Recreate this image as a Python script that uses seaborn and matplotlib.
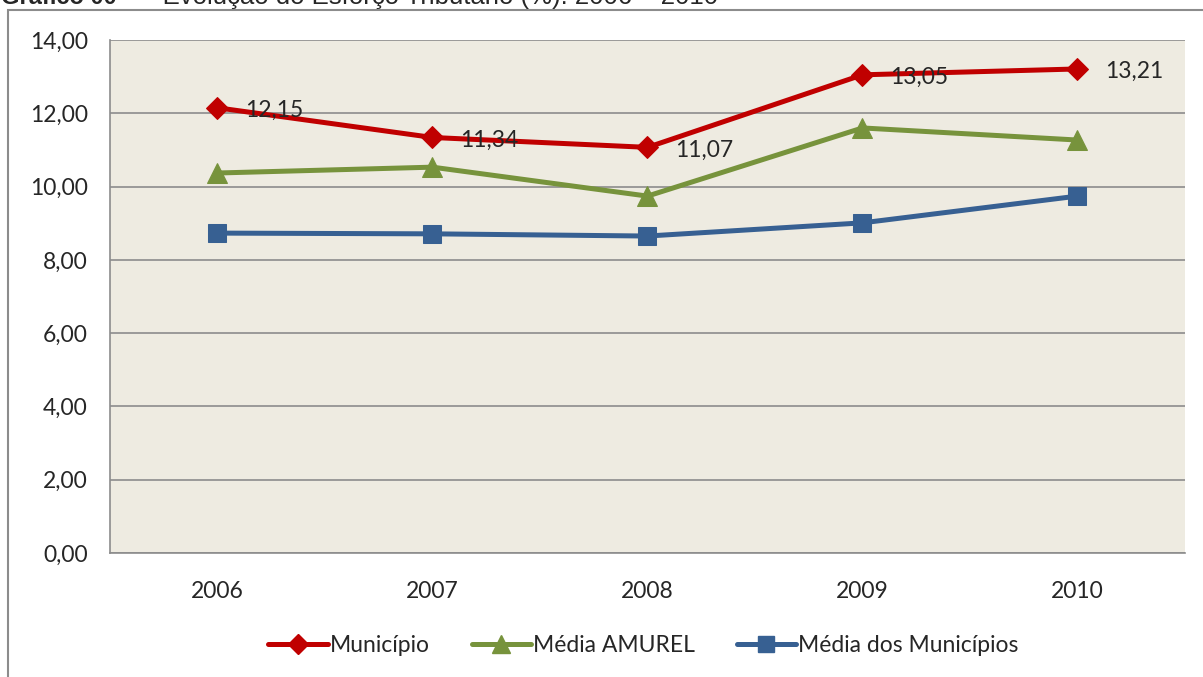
import pandas as pd
import seaborn as sns
import matplotlib.pyplot as plt
from matplotlib.patches import Rectangle
from matplotlib.lines import Line2D

# dados
anos = ["2006", "2007", "2008", "2009", "2010"]
municipio = [12.15, 11.34, 11.07, 13.05, 13.21]
media_amurel = [10.37, 10.53, 9.74, 11.60, 11.27]
media_municipios = [8.73, 8.71, 8.65, 9.01, 9.74]
series = ["Município", "Média AMUREL", "Média dos Municípios"]
cores = ["#C00000", "#77933C", "#376092"]
marcadores = ["D", "^", "s"]

df = pd.DataFrame({
    "ano": anos * 3,
    "valor": municipio + media_amurel + media_municipios,
    "serie": [s for s in series for _ in anos],
})
df["x"] = df["ano"].map({a: i for i, a in enumerate(anos)})

sns.set_style("white")
plt.rcParams["font.family"] = ["Lato", "DejaVu Sans"]
fs = 16.5

fig = plt.figure(figsize=(12.03, 6.77), dpi=100)
ax = fig.add_axes([0.0914, 0.1832, 0.8936, 0.7577])

# moldura do gráfico
fig.patches.append(Rectangle((8 / 1203, -0.1), 1.2, 1 - 10 / 677 + 0.1,
                             transform=fig.transFigure, fill=False,
                             edgecolor="#8c8c8c", linewidth=1.5))

ax.set_facecolor("#EEEBE1")
sizes = {"D": 11, "^": 14, "s": 12.5}
for s, c, m in zip(series, cores, marcadores):
    sub = df[df["serie"] == s]
    sns.lineplot(data=sub, x="x", y="valor", ax=ax, color=c, marker=m,
                 markersize=sizes[m], markeredgecolor=c, linewidth=3.6,
                 legend=False, zorder=3)

for i, v in enumerate(municipio):
    ax.annotate(f"{v:.2f}".replace(".", ","), (i, v), xytext=(20, -2),
                textcoords="offset points", ha="left", va="center",
                fontsize=fs, zorder=4)

ax.set_xlim(-0.5, 4.5)
ax.set_ylim(0, 14)
ax.set_yticks(range(0, 15, 2))
ax.set_yticklabels([f"{v},00" for v in range(0, 15, 2)], fontsize=fs)
ax.yaxis.grid(True, color="#8c8c8c", linewidth=1.2)
ax.set_axisbelow(True)

ax.set_xticks([i - 0.5 for i in range(6)])
ax.set_xticklabels([])
ax.tick_params(axis="x", which="major", direction="out", length=6,
               color="#8c8c8c", width=1)
ax.set_xticks(range(5), minor=True)
ax.set_xticklabels(anos, minor=True, fontsize=fs)
ax.tick_params(axis="x", which="minor", length=0, pad=20)
ax.tick_params(axis="y", direction="out", length=7, color="#8c8c8c", pad=9)

for lado in ["top", "right"]:
    ax.spines[lado].set_visible(False)
for lado in ["left", "bottom"]:
    ax.spines[lado].set_color("#8c8c8c")
    ax.spines[lado].set_linewidth(1.2)
ax.set_xlabel("")
ax.set_ylabel("")

handles = [Line2D([], [], color=c, marker=m, markersize=sizes[m] - 1,
                  linewidth=3.6, markeredgecolor=c)
           for c, m in zip(cores, marcadores)]
fig.legend(handles, series, loc="center", bbox_to_anchor=(0.535, 0.046),
           ncol=3, frameon=False, fontsize=fs, handlelength=2.6,
           handletextpad=0.1, columnspacing=1.8)

# título (cortado na imagem original)
fig.text(0.001, 1.004, "Gráfico 00", fontsize=17, fontweight="bold",
         va="center", ha="left", family=["Liberation Sans", "DejaVu Sans"])
fig.text(0.111, 1.004, "–  Evolução do Esforço Tributário (%): 2006 – 2010",
         fontsize=18.5, va="center", ha="left",
         family=["Liberation Sans", "DejaVu Sans"])

fig.savefig("out.png", dpi=100, facecolor="white")
